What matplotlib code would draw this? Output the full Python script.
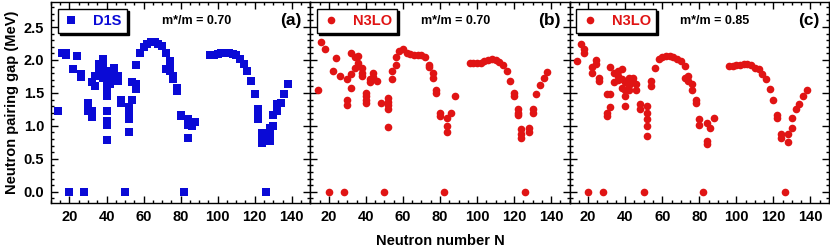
import matplotlib
matplotlib.use("Agg")
import matplotlib.pyplot as plt
from matplotlib.ticker import MultipleLocator

plt.rcParams['font.family'] = ['Liberation Sans', 'DejaVu Sans']
plt.rcParams['font.weight'] = 'bold'

# panel (a): D1S, m*/m = 0.70
n_d1s = [14, 16, 18, 18, 20, 22, 24, 26, 26, 28,
         30, 30, 30, 32, 32, 32, 34, 34, 36, 36,
         36, 38, 38, 38, 38, 38, 40, 40, 40, 40,
         40, 40, 40, 40, 42, 42, 42, 44, 44, 46,
         46, 48, 48, 50, 52, 52, 52, 52, 54, 54,
         56, 56, 56, 58, 60, 62, 64, 66, 68, 70,
         72, 72, 74, 74, 74, 76, 76, 78, 78, 80,
         80, 82, 84, 84, 84, 86, 88, 96, 98, 100,
         102, 104, 106, 108, 110, 112, 114, 116, 118, 120,
         122, 122, 122, 124, 124, 124, 126, 128, 128, 128,
         130, 130, 132, 132, 134, 136, 138]
gap_d1s = [1.23, 2.10, 2.10, 2.07, 0.0, 1.87, 2.06, 1.78, 1.74, 0.0,
           1.34, 1.28, 1.23, 1.66, 1.23, 1.14, 1.60, 1.75, 1.94, 1.84,
           1.78, 2.01, 1.95, 1.88, 1.82, 1.73, 1.73, 1.65, 1.58, 1.45,
           1.22, 1.07, 1.01, 0.78, 1.84, 1.76, 1.63, 1.88, 1.78, 1.76,
           1.68, 1.40, 1.35, 0.0, 1.29, 1.20, 1.10, 0.90, 1.66, 1.40,
           1.93, 1.63, 1.56, 2.10, 2.20, 2.25, 2.27, 2.27, 2.25, 2.21,
           2.11, 1.86, 1.99, 1.93, 1.83, 1.76, 1.71, 1.58, 1.53, 1.17,
           1.15, 0.0, 1.10, 1.02, 0.82, 1.00, 1.06, 2.07, 2.08, 2.09,
           2.10, 2.11, 2.11, 2.09, 2.07, 2.02, 1.94, 1.83, 1.68, 1.48,
           1.25, 1.18, 1.10, 0.89, 0.80, 0.74, 0.0, 0.97, 0.87, 0.77,
           1.17, 1.00, 1.33, 1.22, 1.35, 1.49, 1.63]

# panel (b): N3LO, m*/m = 0.70
n_b = [14, 16, 18, 20, 22, 24, 26, 28, 30, 30,
       30, 32, 32, 32, 34, 34, 36, 36, 38, 38,
       38, 40, 40, 40, 40, 42, 42, 44, 44, 46,
       48, 50, 52, 52, 52, 52, 52, 54, 54, 56,
       56, 58, 60, 62, 64, 66, 68, 70, 72, 74,
       74, 76, 76, 78, 78, 80, 80, 82, 84, 84,
       84, 86, 88, 96, 98, 100, 102, 104, 106, 108,
       110, 112, 114, 116, 118, 120, 120, 122, 122, 122,
       124, 124, 124, 126, 128, 128, 130, 130, 132, 134,
       136, 138]
gap_b = [1.54, 2.28, 2.16, 0.0, 1.83, 2.03, 1.76, 0.0, 1.71, 1.40,
         1.31, 2.11, 1.78, 1.58, 1.88, 2.04, 2.06, 1.96, 1.88, 1.81,
         1.76, 1.50, 1.45, 1.40, 1.35, 1.71, 1.67, 1.81, 1.74, 1.68,
         1.35, 0.0, 1.43, 1.37, 1.32, 1.25, 0.98, 1.83, 1.71, 1.93,
         2.04, 2.14, 2.16, 2.11, 2.09, 2.07, 2.08, 2.08, 2.04, 1.93,
         1.90, 1.81, 1.73, 1.55, 1.50, 1.20, 1.15, 0.0, 1.12, 1.00,
         0.90, 1.20, 1.45, 1.95, 1.95, 1.95, 1.96, 1.98, 2.00, 2.01,
         2.00, 1.97, 1.92, 1.83, 1.68, 1.50, 1.45, 1.25, 1.20, 1.17,
         0.95, 0.88, 0.82, 0.0, 0.97, 0.90, 1.25, 1.19, 1.48, 1.62,
         1.72, 1.82]

# panel (c): N3LO, m*/m = 0.85
n_c = [14, 16, 18, 18, 20, 22, 22, 24, 24, 26,
       26, 28, 30, 30, 30, 32, 32, 32, 34, 34,
       36, 36, 36, 38, 38, 38, 40, 40, 40, 40,
       42, 42, 42, 44, 44, 46, 46, 48, 48, 50,
       52, 52, 52, 52, 52, 54, 54, 56, 58, 60,
       62, 64, 66, 68, 70, 72, 72, 74, 74, 76,
       76, 78, 78, 80, 80, 82, 84, 84, 84, 86,
       88, 96, 98, 100, 102, 104, 106, 108, 110, 112,
       114, 116, 118, 120, 122, 122, 124, 124, 126, 128,
       128, 130, 130, 132, 134, 136, 138]
gap_c = [1.99, 2.24, 2.16, 2.11, 0.0, 1.89, 1.81, 2.00, 1.94, 1.73,
         1.68, 0.0, 1.48, 1.20, 1.15, 1.90, 1.48, 1.28, 1.66, 1.80,
         1.83, 1.76, 1.70, 1.86, 1.71, 1.58, 1.66, 1.55, 1.45, 1.30,
         1.73, 1.62, 1.55, 1.73, 1.66, 1.63, 1.55, 1.33, 1.25, 0.0,
         1.30, 1.20, 1.10, 1.00, 0.85, 1.68, 1.60, 1.88, 2.01, 2.05,
         2.06, 2.06, 2.04, 2.02, 1.99, 1.91, 1.73, 1.76, 1.68, 1.63,
         1.55, 1.40, 1.35, 1.10, 1.02, 0.0, 1.05, 0.77, 0.72, 0.97,
         1.12, 1.91, 1.91, 1.92, 1.93, 1.94, 1.94, 1.92, 1.88, 1.86,
         1.78, 1.71, 1.56, 1.40, 1.17, 1.12, 0.87, 0.82, 0.0, 0.87,
         0.75, 1.12, 0.97, 1.25, 1.33, 1.45, 1.54]

blue = '#0a0ad6'
red = '#e01414'

panels = [
    (n_d1s, gap_d1s, 's', blue, 'D1S', 'm*/m = 0.70', '(a)'),
    (n_b, gap_b, 'o', red, 'N3LO', 'm*/m = 0.70', '(b)'),
    (n_c, gap_c, 'o', red, 'N3LO', 'm*/m = 0.85', '(c)'),
]

fig, axes = plt.subplots(1, 3, figsize=(8.3, 2.5), dpi=100, sharey=True)
fig.subplots_adjust(left=0.0614, right=0.9988, bottom=0.188, top=0.992, wspace=0)

for ax, (xs, ys, mk, col, lab, mtxt, tag) in zip(axes, panels):
    ax.plot(xs, ys, linestyle='none', marker=mk, color=col, ms=5.5, mew=0, label=lab)
    ax.set_xlim(10, 150)
    ax.set_ylim(-0.17, 2.88)
    ax.xaxis.set_major_locator(MultipleLocator(20))
    ax.xaxis.set_minor_locator(MultipleLocator(5))
    ax.yaxis.set_major_locator(MultipleLocator(0.5))
    ax.yaxis.set_minor_locator(MultipleLocator(0.1))
    ax.tick_params(which='both', direction='in', top=True, right=True, width=1.0)
    ax.tick_params(which='major', length=5, labelsize=10.5, pad=5)
    ax.tick_params(which='minor', length=2.5)
    for sp in ax.spines.values():
        sp.set_linewidth(1.0)
    ax.set_xticks([20, 40, 60, 80, 100, 120, 140])
    leg = ax.legend(loc='upper left', frameon=True, fancybox=False,
                    shadow={'color': 'black', 'alpha': 1, 'ox': 1.5, 'oy': -1.5},
                    edgecolor='black', framealpha=1, borderpad=0.35,
                    handlelength=1.2, handletextpad=0.9, borderaxespad=0.45,
                    prop={'weight': 'bold', 'size': 10.5}, labelcolor=col,
                    markerscale=1.0)
    leg.get_frame().set_linewidth(1.0)
    ax.text(0.56, 0.905, mtxt, transform=ax.transAxes, ha='center', va='center',
            fontsize=9, fontweight='bold')
    ax.text(0.965, 0.91, tag, transform=ax.transAxes, ha='right', va='center',
            fontsize=12.5, fontweight='bold')

axes[0].yaxis.set_major_formatter(matplotlib.ticker.FormatStrFormatter('%.1f'))
axes[0].set_ylabel('Neutron pairing gap (MeV)', fontsize=10.5, fontweight='bold', labelpad=3)
axes[1].set_xlabel('Neutron number N', fontsize=10.5, fontweight='bold', labelpad=7)

fig.savefig('out.png', dpi=100)
